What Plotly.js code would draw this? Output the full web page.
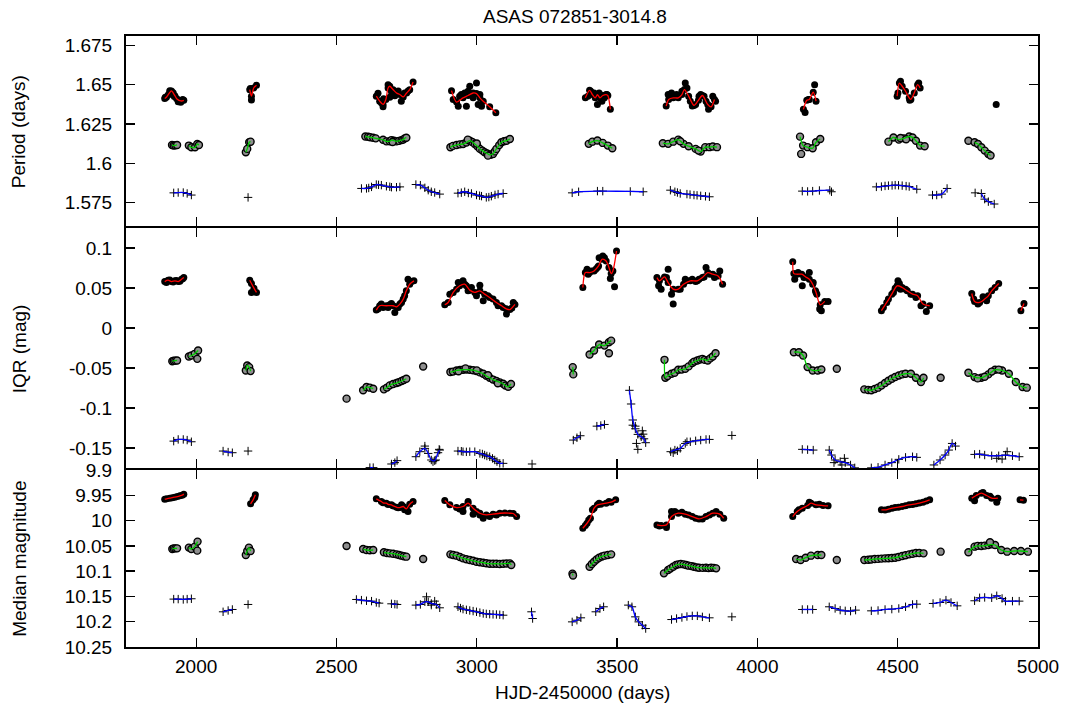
<!DOCTYPE html>
<html>
<head>
<meta charset="utf-8">
<script src="https://cdn.plot.ly/plotly-3.0.1.min.js"></script>
<style>
  html, body { margin: 0; padding: 0; background: #fff; }
  #chart { width: 1070px; height: 710px; }
</style>
</head>
<body>
<div id="chart"></div>
<script>
// ---- Axis ticks ----
const xTickVals = [2000, 2500, 3000, 3500, 4000, 4500, 5000];
const xTickText = ['2000', '2500', '3000', '3500', '4000', '4500', '5000'];
const periodTickVals = [1.575, 1.6, 1.625, 1.65, 1.675];
const periodTickText = ['1.575', '1.6', '1.625', '1.65', '1.675'];
const iqrTickVals = [-0.15, -0.1, -0.05, 0, 0.05, 0.1];
const iqrTickText = ['-0.15', '-0.1', '-0.05', '0', '0.05', '0.1'];
const magTickVals = [9.9, 9.95, 10, 10.05, 10.1, 10.15, 10.2, 10.25];
const magTickText = ['9.9', '9.95', '10', '10.05', '10.1', '10.15', '10.2', '10.25'];

// ---- Period (days): smoothed seasons (null = season gap) and extra scatter ----
const periodRedX = [1888,1894,1900,1906,1912,1918,1924,1930,1936,1942,1948,1956,null,
  2191,2197,2205,2215,null,
  2642,2654,2666,2676,2684,2690,2702,2714,2726,2738,2750,2761,2773,null,
  2910,2928,2951,2969,2987,2999,3011,3023,3046,3068,null,
  3387,3402,3412,3422,3430,3439,3449,3461,3467,3476,null,
  3675,3684,3700,3718,3731,3740,3755,3774,3790,3804,3823,3835,3847,null,
  4164,4176,4185,4199,4209,null,
  4498,4506,4516,4528,4541,4547,4559,4571,4580,null,
  4851];
const periodRedY = [1.6412,1.6420,1.6435,1.6450,1.6460,1.6448,1.6430,1.6412,1.6403,1.6398,1.6396,1.6400,null,
  1.6468,1.6427,1.6479,1.6496,null,
  1.6427,1.6395,1.6374,1.6406,1.6479,1.6490,1.6468,1.6447,1.6437,1.6422,1.6447,1.6468,1.6517,null,
  1.6462,1.6389,1.6416,1.6431,1.6447,1.6443,1.6416,1.6395,1.6359,1.6321,null,
  1.6416,1.6464,1.6437,1.6416,1.6437,1.6416,1.6431,1.6437,1.6431,1.6343,null,
  1.6364,1.6406,1.6416,1.6416,1.6437,1.6469,1.6427,1.6368,1.6401,1.6431,1.6374,1.6359,1.6406,null,
  1.6343,1.6401,1.6406,1.6452,1.6395,null,
  1.6427,1.6510,1.6490,1.6458,1.6416,1.6406,1.6447,1.6500,1.6479,null,
  1.6374];
const periodRedExtraX = [1890,1906,1922,1936,1945,1952,2197,2193,
  2648,2660,2666,2684,2696,2708,2720,2731,2743,2755,2668,2690,
  2916,2934,2945,2957,2963,2969,2975,2987,2999,3011,3017,3005,2939,2981,
  3406,3418,3430,3436,3446,3455,3464,3396,
  3682,3694,3712,3731,3743,3749,3761,3768,3780,3792,3798,3810,3817,3826,3831,3841,3851,
  4170,4204,4182,4510,4501,4543,4575];
const periodRedExtraY = [1.6420,1.6462,1.6425,1.6392,1.6388,1.6405,1.6402,1.6475,
  1.6445,1.6385,1.6360,1.6500,1.6455,1.6430,1.6460,1.6395,1.6447,1.6460,1.6410,1.6420,
  1.6405,1.6363,1.6437,1.6447,1.6363,1.6458,1.6490,1.6416,1.6510,1.6437,1.6363,1.6374,1.6427,1.6437,
  1.6458,1.6447,1.6374,1.6447,1.6395,1.6416,1.6437,1.6427,
  1.6437,1.6447,1.6437,1.6458,1.6510,1.6479,1.6395,1.6364,1.6374,1.6427,1.6437,1.6427,1.6395,1.6343,1.6364,1.6427,1.6395,
  1.6322,1.6500,1.6406,1.6521,1.6447,1.6401,1.6510];

const periodGreenX = [1914,1920,1926,1932,null,
  1974,1983,1996,2004,2010,null,
  2177,2182,2189,2194,null,
  2603,2613,2620,2631,2666,2678,2690,2696,2705,2714,2723,2732,2738,2743,2749,null,
  2906,2915,2928,2940,2951,2963,2975,2984,2993,3002,3011,3020,3028,3037,3046,3052,3058,3064,3070,3080,3088,3097,3106,3118,null,
  3399,3412,3430,3449,3467,3483,null,
  3663,3682,3700,3718,3737,3755,3780,3798,3814,3829,3841,3856,null,
  4152,4163,4179,4197,4209,4224,null,
  4467,4485,4504,4522,4541,4553,4565,4580,4596,null,
  4752,null,
  4774,4786,4798,4810,4823,4831];
const periodGreenY = [1.6116,1.6112,1.6114,1.6116,null,
  1.6112,1.6101,1.6101,1.6122,1.6116,null,
  1.6070,1.6091,1.6133,1.6137,null,
  1.6170,1.6168,1.6165,1.6162,1.6149,1.6139,1.6140,1.6147,1.6143,1.6139,1.6142,1.6147,1.6150,1.6158,1.6162,null,
  1.6101,1.6110,1.6116,1.6120,1.6122,1.6132,1.6143,1.6135,1.6122,1.6108,1.6091,1.6080,1.6070,1.6062,1.6053,1.6055,1.6059,1.6075,1.6091,1.6115,1.6133,1.6140,1.6143,1.6154,null,
  1.6123,1.6137,1.6144,1.6129,1.6112,1.6095,null,
  1.6127,1.6123,1.6137,1.6150,1.6123,1.6108,1.6091,1.6074,1.6102,1.6102,1.6106,1.6102,null,
  1.6169,1.6112,1.6102,1.6095,1.6133,1.6154,null,
  1.6137,1.6164,1.6150,1.6158,1.6170,1.6164,1.6143,1.6112,1.6108,null,
  1.6143,null,
  1.6133,1.6122,1.6101,1.6080,1.6059,1.6049];
const periodGreenExtraX = [2968,3000,3040,4156,2640,2700,3725,3790,4510,4530];
const periodGreenExtraY = [1.6150,1.6125,1.6048,1.6059,1.6158,1.6135,1.6140,1.6080,1.6160,1.6152];

const periodBlueX = [1920,1936,1954,1968,1983,null,
  2185,null,
  2589,2607,2625,2642,2660,2678,2696,2714,2726,null,
  2783,2799,2815,2827,2838,2850,2868,null,
  2933,2957,2981,2999,3017,3034,3052,3076,3094,null,
  3340,3363,3430,3449,3547,3593,null,
  3690,3706,3725,3749,3774,3798,3829,null,
  4160,4179,4197,4221,4258,null,
  4424,4442,4467,4491,4516,4541,4568,null,
  4624,4639,4657,4676,null,
  4776,null,
  4798,4810,4823,4844];
const periodBlueY = [1.5811,1.5813,1.5813,1.5807,1.5797,null,
  1.5782,null,
  1.5839,1.5839,1.5849,1.5864,1.5860,1.5853,1.5847,1.5847,1.5849,null,
  1.5864,1.5860,1.5843,1.5828,1.5818,1.5813,1.5803,null,
  1.5809,1.5818,1.5807,1.5797,1.5790,1.5782,1.5790,1.5803,1.5807,null,
  1.5811,1.5818,1.5822,1.5822,1.5820,1.5818,null,
  1.5828,1.5818,1.5807,1.5803,1.5797,1.5792,1.5786,null,
  1.5822,1.5820,1.5822,1.5826,1.5828,null,
  1.5849,1.5851,1.5857,1.5860,1.5857,1.5851,1.5834,null,
  1.5797,1.5797,1.5803,1.5839,null,
  1.5811,null,
  1.5807,1.5771,1.5755,1.5740];
const periodBlueExtraX = [4264,2945,2970,3010,3043,3065,2615,2650,2690,3715,3760,3785,3815,4455,4480,4503,4530];
const periodBlueExtraY = [1.5818,1.5812,1.5810,1.5793,1.5784,1.5798,1.5842,1.5862,1.5850,1.5813,1.5800,1.5795,1.5789,1.5855,1.5858,1.5859,1.5854];

// ---- IQR (mag) ----
const iqrRedX = [1888,1900,1912,1924,1936,1948,1956,null,
  2191,2197,2206,2215,null,
  2642,2654,2678,2702,2714,2726,2738,2749,2761,2776,null,
  2886,2898,2916,2939,2957,2975,2993,3011,3028,3046,3070,3088,3105,3118,3136,null,
  3378,3387,3402,3418,3434,3446,3461,3471,3479,3485,3498,null,
  3642,3651,3669,3682,3700,3718,3737,3761,3786,3804,3823,3841,3860,3876,null,
  4126,4130,4142,4158,4172,4185,4197,4209,4224,4240,null,
  4442,4461,4479,4498,4516,4534,4553,4571,4590,4614,null,
  4764,4774,4792,4810,4823,4835,4860,null,
  4939,4950];
const iqrRedY = [0.0580,0.0597,0.0580,0.0589,0.0580,0.0609,0.0630,null,
  0.0597,0.0556,0.0498,0.0444,null,
  0.0224,0.0278,0.0278,0.0278,0.0265,0.0299,0.0361,0.0464,0.0547,0.0589,null,
  0.0290,0.0319,0.0444,0.0527,0.0547,0.0473,0.0444,0.0464,0.0423,0.0381,0.0319,0.0278,0.0240,0.0230,0.0295,null,
  0.0506,0.0692,0.0692,0.0713,0.0775,0.0858,0.0837,0.0755,0.0680,0.0713,0.0962,null,
  0.0630,0.0589,0.0638,0.0568,0.0485,0.0485,0.0547,0.0589,0.0589,0.0630,0.0692,0.0672,0.0651,0.0547,null,
  0.0829,0.0680,0.0672,0.0672,0.0638,0.0609,0.0547,0.0444,0.0290,0.0332,null,
  0.0216,0.0319,0.0423,0.0527,0.0506,0.0464,0.0423,0.0402,0.0299,0.0278,null,
  0.0431,0.0332,0.0319,0.0361,0.0402,0.0464,0.0556,null,
  0.0216,0.0307];
const iqrRedExtraX = [1894,1906,1918,1930,1942,1952,2197,
  2648,2666,2690,2708,2720,2732,2743,2755,2660,2684,2696,2767,
  2904,2934,2951,2969,2981,2999,3011,3023,3040,3058,3076,3094,3106,2928,2963,3125,3130,
  3393,3409,3424,3436,3449,3455,3476,3491,3397,3430,
  3648,3657,3676,3682,3694,3700,3725,3743,3768,3792,3817,3831,3847,3866,3749,3780,3810,
  4133,4145,4160,4166,4185,4199,4207,4212,4222,4228,4252,
  4449,4467,4485,4501,4510,4528,4547,4565,4583,4602,4491,4506,
  4771,4786,4804,4817,4847];
const iqrRedExtraY = [0.0570,0.0600,0.0575,0.0592,0.0585,0.0615,0.0444,
  0.0236,0.0257,0.0290,0.0195,0.0257,0.0319,0.0402,0.0609,0.0299,0.0257,0.0307,0.0580,
  0.0423,0.0568,0.0589,0.0464,0.0506,0.0402,0.0535,0.0340,0.0402,0.0361,0.0278,0.0257,0.0174,0.0485,0.0527,0.0250,0.0320,
  0.0734,0.0713,0.0734,0.0879,0.0900,0.0879,0.0618,0.0514,0.0672,0.0755,
  0.0527,0.0485,0.0630,0.0734,0.0423,0.0299,0.0485,0.0609,0.0609,0.0609,0.0755,0.0672,0.0630,0.0713,0.0589,0.0580,0.0638,
  0.0609,0.0692,0.0527,0.0630,0.0692,0.0568,0.0464,0.0423,0.0236,0.0216,0.0332,
  0.0257,0.0361,0.0444,0.0589,0.0485,0.0485,0.0423,0.0381,0.0278,0.0207,0.0498,0.0556,
  0.0361,0.0299,0.0390,0.0340,0.0506];

const iqrGreenX = [1915,1920,1926,1932,null,
  1974,1983,1995,2007,null,
  2177,2182,2189,2194,null,
  2536,null,
  2595,2607,2619,2631,null,
  2669,2680,2690,2702,2714,2722,2732,2740,2749,null,
  2809,null,
  2906,2915,2928,2940,2951,2963,2975,2987,2999,3011,3023,3034,3046,3058,3070,3082,3094,3102,3112,3122,null,
  3342,3344,null,
  3402,3418,3436,3455,3471,3479,null,
  3669,3672,3680,3694,3705,3718,3730,3743,3755,3768,3775,3786,3795,3804,3812,3823,3832,3841,3851,null,
  4130,4148,4163,4179,4197,4215,4228,null,
  4283,null,
  4381,4395,4406,4418,4430,4442,4455,4467,4479,4491,4504,4516,4528,4547,4565,4583,4592,null,
  4653,null,
  4752,4774,4798,4823,4847,4872,4896,4921,4945,4960];
const iqrGreenY = [-0.0415,-0.0410,-0.0408,-0.0406,null,
  -0.0357,-0.0344,-0.0323,-0.0282,null,
  -0.0531,-0.0468,-0.0489,-0.0539,null,
  -0.0883,null,
  -0.0779,-0.0738,-0.0746,-0.0759,null,
  -0.0767,-0.0745,-0.0717,-0.0700,-0.0688,-0.0678,-0.0663,-0.0650,-0.0634,null,
  -0.0481,null,
  -0.0551,-0.0545,-0.0531,-0.0525,-0.0522,-0.0520,-0.0522,-0.0528,-0.0539,-0.0555,-0.0572,-0.0598,-0.0622,-0.0645,-0.0663,-0.0680,-0.0697,-0.0720,-0.0735,-0.0700,null,
  -0.0489,-0.0580,null,
  -0.0332,-0.0282,-0.0207,-0.0220,-0.0178,-0.0158,null,
  -0.0398,-0.0622,-0.0600,-0.0572,-0.0560,-0.0522,-0.0520,-0.0510,-0.0480,-0.0439,-0.0420,-0.0406,-0.0395,-0.0386,-0.0398,-0.0406,-0.0380,-0.0357,-0.0315,null,
  -0.0303,-0.0303,-0.0344,-0.0489,-0.0531,-0.0531,-0.0518,null,
  -0.0510,null,
  -0.0767,-0.0775,-0.0779,-0.0762,-0.0746,-0.0720,-0.0688,-0.0660,-0.0634,-0.0612,-0.0593,-0.0580,-0.0572,-0.0572,-0.0622,-0.0676,-0.0622,null,
  -0.0622,null,
  -0.0560,-0.0614,-0.0622,-0.0580,-0.0522,-0.0531,-0.0572,-0.0676,-0.0738,-0.0746];
const iqrGreenExtraX = [2004,3471,2960,3040,3075,4785,4810,4860,4835,2935,3000];
const iqrGreenExtraY = [-0.0386,-0.0315,-0.0505,-0.0590,-0.0690,-0.0630,-0.0610,-0.0520,-0.0545,-0.0540,-0.0530];

const iqrBlueX = [1920,1936,1954,1968,1983,null,
  2096,2114,2129,null,
  2185,null,
  2619,2631,null,
  2696,2708,2716,null,
  2783,2797,2815,2827,2838,2850,2862,2868,null,
  2933,2945,2951,2963,2975,2993,3011,3020,3028,3036,3046,3056,3064,3072,3082,3094,null,
  3197,null,
  3344,3357,3369,null,
  3428,3442,3455,null,
  3544,3550,3556,3565,3574,3586,3596,3602,null,
  3691,3706,3725,3743,3761,3780,3798,3817,3829,null,
  3909,null,
  4160,4179,4199,null,
  4256,4264,4277,4295,4313,4332,4347,null,
  4406,4430,4455,4479,4504,4528,4553,4568,null,
  4629,4651,4669,4682,4694,4706,null,
  4774,4792,4810,4835,4860,4884,4909,4933];
const iqrBlueY = [-0.1414,-0.1393,-0.1393,-0.1401,-0.1422,null,
  -0.1538,-0.1551,-0.1559,null,
  -0.1538,null,
  -0.1745,-0.1745,null,
  -0.1700,-0.1683,-0.1658,null,
  -0.1609,-0.1546,-0.1505,-0.1568,-0.1650,-0.1658,-0.1559,-0.1526,null,
  -0.1538,-0.1540,-0.1546,-0.1548,-0.1546,-0.1546,-0.1568,-0.1575,-0.1588,-0.1600,-0.1609,-0.1630,-0.1650,-0.1670,-0.1692,-0.1692,null,
  -0.1700,null,
  -0.1401,-0.1372,-0.1347,null,
  -0.1227,-0.1219,-0.1206,null,
  -0.0779,-0.0950,-0.1150,-0.1260,-0.1330,-0.1360,-0.1385,-0.1434,null,
  -0.1546,-0.1526,-0.1505,-0.1443,-0.1422,-0.1410,-0.1401,-0.1393,-0.1393,null,
  -0.1343,null,
  -0.1517,-0.1521,-0.1526,null,
  -0.1526,-0.1588,-0.1650,-0.1671,-0.1683,-0.1712,-0.1748,null,
  -0.1748,-0.1741,-0.1712,-0.1683,-0.1642,-0.1617,-0.1609,-0.1617,null,
  -0.1712,-0.1650,-0.1588,-0.1526,-0.1443,-0.1476,null,
  -0.1580,-0.1576,-0.1588,-0.1597,-0.1597,-0.1588,-0.1597,-0.1609];
const iqrBlueExtraX = [2815,2844,2854,2866,3556,3565,3569,3574,3590,3593,3749,3700,3715,4310,4301,4273,4853,4872,4890];
const iqrBlueExtraY = [-0.1476,-0.1671,-0.1650,-0.1517,-0.1215,-0.1227,-0.1443,-0.1517,-0.1285,-0.1327,-0.1422,-0.1560,-0.1535,-0.1629,-0.1712,-0.1683,-0.1629,-0.1638,-0.1546];

// ---- Median magnitude ----
const magRedX = [1888,1895,1906,1915,1924,1933,1942,1950,1956,null,
  2194,2203,2211,null,
  2642,2660,2666,2678,2684,2696,2702,2714,2720,2726,2738,2749,2761,2773,null,
  2886,2904,2928,2951,2969,2987,3011,3034,3058,3082,3100,3118,3130,3142,null,
  3378,3393,3405,3418,3430,3442,3461,3479,3495,null,
  3642,3657,3676,3694,3718,3743,3768,3792,3817,3841,3866,3880,null,
  4126,4142,4160,4179,4191,4209,4234,4252,null,
  4442,4455,4467,4480,4491,4503,4516,4528,4541,4553,4565,4577,4590,4602,4614,null,
  4764,4780,4798,4817,4835,4857,null,
  4936,4948];
const magRedY = [9.9577,9.9570,9.9557,9.9548,9.9537,9.9525,9.9511,9.9498,9.9478,null,
  9.9669,9.9590,9.9491,null,
  9.9570,9.9623,9.9650,9.9656,9.9680,9.9689,9.9710,9.9736,9.9745,9.9742,9.9722,9.9769,9.9676,9.9623,null,
  9.9603,9.9689,9.9742,9.9722,9.9656,9.9755,9.9855,9.9888,9.9874,9.9855,9.9850,9.9855,9.9860,9.9921,null,
  10.0152,10.0053,9.9954,9.9755,9.9689,9.9676,9.9656,9.9636,9.9590,null,
  10.0086,10.0099,10.0086,9.9921,9.9855,9.9874,9.9921,9.9967,9.9921,9.9855,9.9874,9.9954,null,
  9.9921,9.9822,9.9755,9.9703,9.9656,9.9689,9.9703,9.9709,null,
  9.9788,9.9790,9.9775,9.9755,9.9742,9.9735,9.9722,9.9705,9.9689,9.9680,9.9669,9.9655,9.9636,9.9615,9.9590,null,
  9.9557,9.9504,9.9458,9.9504,9.9557,9.9557,null,
  9.9590,9.9597];
const magRedExtraX = [2209,2732,2743,2755,2951,2969,2987,3011,3023,3046,2939,2999,3070,
  3387,3399,3412,3436,3471,3694,3676,3706,3731,3755,3780,3804,3829,3853,3651,
  4148,4185,4221,4774,4853,4804,4829];
const magRedExtraY = [9.9545,9.9689,9.9788,9.9822,9.9822,9.9623,9.9874,9.9888,9.9954,9.9921,9.9769,9.9822,9.9888,
  10.0099,9.9987,9.9788,9.9656,9.9623,9.9822,10.0139,9.9822,9.9835,9.9888,9.9954,9.9967,9.9888,9.9822,10.0106,
  9.9788,9.9636,9.9676,9.9610,9.9636,9.9445,9.9517];

const magGreenX = [1915,1920,1926,1932,null,
  1974,1983,1995,2005,null,
  2177,2182,2188,2194,null,
  2536,null,
  2595,2607,2619,2631,null,
  2669,2680,2690,2702,2714,2723,2732,2740,2749,null,
  2809,null,
  2906,2916,2928,2940,2951,2963,2975,2987,2999,3011,3023,3034,3046,3058,3070,3082,3094,3106,3118,3123,null,
  3341,3343,null,
  3402,3410,3418,3427,3436,3446,3455,3467,3479,null,
  3667,3682,3690,3700,3710,3718,3727,3737,3746,3755,3765,3774,3783,3792,3805,3817,3826,3835,3845,3853,null,
  4138,4154,4172,4191,4215,4228,null,
  4283,null,
  4381,4395,4405,4418,4430,4442,4455,4467,4479,4491,4503,4516,4528,4541,4553,4565,4577,4592,null,
  4653,null,
  4752,4774,4785,4798,4810,4823,4835,4847,4869,4890,4915,4939,4964];
const magGreenY = [10.0562,10.0550,10.0549,10.0549,null,
  10.0535,10.0562,10.0516,10.0416,null,
  10.0681,10.0602,10.0535,10.0602,null,
  10.0502,null,
  10.0562,10.0582,10.0588,10.0582,null,
  10.0628,10.0640,10.0648,10.0655,10.0668,10.0680,10.0694,10.0705,10.0714,null,
  10.0760,null,
  10.0668,10.0680,10.0694,10.0720,10.0747,10.0765,10.0780,10.0795,10.0813,10.0825,10.0833,10.0845,10.0853,10.0855,10.0853,10.0858,10.0853,10.0850,10.0846,10.0879,null,
  10.1050,10.1085,null,
  10.0912,10.0860,10.0813,10.0770,10.0734,10.0710,10.0694,10.0680,10.0668,null,
  10.1044,10.0978,10.0950,10.0912,10.0880,10.0866,10.0860,10.0866,10.0880,10.0892,10.0900,10.0912,10.0925,10.0932,10.0935,10.0932,10.0940,10.0932,10.0935,10.0945,null,
  10.0760,10.0780,10.0734,10.0694,10.0681,10.0681,null,
  10.0780,null,
  10.0780,10.0775,10.0770,10.0760,10.0758,10.0752,10.0747,10.0745,10.0740,10.0734,10.0720,10.0701,10.0685,10.0668,10.0655,10.0641,10.0640,10.0648,null,
  10.0615,null,
  10.0628,10.0516,10.0500,10.0502,10.0495,10.0483,10.0470,10.0483,10.0582,10.0615,10.0602,10.0602,10.0615];
const magGreenExtraX = [2004,4829];
const magGreenExtraY = [10.0595,10.0430];

const magBlueX = [1920,1936,1954,1968,1983,null,
  2096,2114,2129,null,
  2185,null,
  2571,2589,2607,2625,2642,2652,null,
  2696,2708,2716,null,
  2783,2799,2815,2827,2838,2856,2868,null,
  2933,2942,2951,2963,2975,2987,2999,3011,3023,3034,3046,3058,3070,3082,3094,null,
  3195,3199,null,
  3340,3357,3371,null,
  3424,3439,3452,null,
  3540,3553,3565,3577,3590,3602,null,
  3694,3712,3731,3749,3768,3786,3804,3829,null,
  3909,null,
  4160,4179,4197,null,
  4256,4277,4295,4313,4332,4350,null,
  4406,4430,4455,4479,4504,4528,4553,4568,null,
  4626,4651,4672,4690,4712,null,
  4774,4792,4810,4835,4853,4872,4884,4909,4933];
const magBlueY = [10.1553,10.1553,10.1560,10.1553,10.1546,null,
  10.1804,10.1778,10.1758,null,
  10.1659,null,
  10.1560,10.1573,10.1586,10.1593,10.1620,10.1633,null,
  10.1646,10.1653,10.1659,null,
  10.1672,10.1659,10.1606,10.1606,10.1639,10.1659,10.1725,null,
  10.1705,10.1730,10.1751,10.1765,10.1778,10.1790,10.1804,10.1820,10.1837,10.1845,10.1851,10.1855,10.1857,10.1862,10.1871,null,
  10.1804,10.1937,null,
  10.2003,10.1970,10.1923,null,
  10.1804,10.1738,10.1705,null,
  10.1672,10.1705,10.1904,10.2003,10.2069,10.2135,null,
  10.1957,10.1937,10.1917,10.1897,10.1884,10.1884,10.1904,10.1923,null,
  10.1904,null,
  10.1758,10.1758,10.1758,null,
  10.1705,10.1738,10.1771,10.1785,10.1791,10.1771,null,
  10.1785,10.1778,10.1758,10.1751,10.1738,10.1705,10.1659,10.1653,null,
  10.1639,10.1620,10.1573,10.1620,10.1686,null,
  10.1586,10.1527,10.1520,10.1527,10.1487,10.1540,10.1593,10.1593,10.1593];
const magBlueExtraX = [2821,2838,2850];
const magBlueExtraY = [10.1507,10.1672,10.1593];

// ---- Styles ----
const FONT = 'Liberation Sans, Arial, Helvetica, sans-serif';
const styles = {
  red:   { line: '#ff0000', marker: { symbol: 'circle', size: 7, color: '#000000' } },
  green: { line: '#00cc00', marker: { symbol: 'circle', size: 7, color: '#8e8e8e', line: { color: '#000000', width: 1.4 } } },
  blue:  { line: '#0000ff', marker: { symbol: 'cross-thin-open', size: 6, color: '#000000', line: { color: '#000000', width: 1 } } }
};

function points(xs, ys, exX, exY) {
  const px = [], py = [];
  xs.forEach((v, i) => { if (v !== null) { px.push(v); py.push(ys[i]); } });
  return { x: px.concat(exX), y: py.concat(exY) };
}

function series(xs, ys, exX, exY, style, xa, ya) {
  const p = points(xs, ys, exX, exY);
  return [
    { type: 'scatter', mode: 'markers', x: p.x, y: p.y, xaxis: xa, yaxis: ya,
      marker: style.marker, hoverinfo: 'skip' },
    { type: 'scatter', mode: 'lines', x: xs, y: ys, xaxis: xa, yaxis: ya,
      connectgaps: false, line: { color: style.line, width: 1.3, shape: 'spline', smoothing: 0.8 },
      hoverinfo: 'skip' }
  ];
}

const data = [].concat(
  series(periodRedX, periodRedY, periodRedExtraX, periodRedExtraY, styles.red, 'x3', 'y3'),
  series(periodGreenX, periodGreenY, periodGreenExtraX, periodGreenExtraY, styles.green, 'x3', 'y3'),
  series(periodBlueX, periodBlueY, periodBlueExtraX, periodBlueExtraY, styles.blue, 'x3', 'y3'),
  series(iqrRedX, iqrRedY, iqrRedExtraX, iqrRedExtraY, styles.red, 'x2', 'y2'),
  series(iqrGreenX, iqrGreenY, iqrGreenExtraX, iqrGreenExtraY, styles.green, 'x2', 'y2'),
  series(iqrBlueX, iqrBlueY, iqrBlueExtraX, iqrBlueExtraY, styles.blue, 'x2', 'y2'),
  series(magRedX, magRedY, magRedExtraX, magRedExtraY, styles.red, 'x', 'y'),
  series(magGreenX, magGreenY, magGreenExtraX, magGreenExtraY, styles.green, 'x', 'y'),
  series(magBlueX, magBlueY, magBlueExtraX, magBlueExtraY, styles.blue, 'x', 'y')
);

const frame = {
  showline: true, linecolor: '#000', linewidth: 2, mirror: 'ticks',
  ticks: 'inside', ticklen: 9, tickwidth: 1.3, tickcolor: '#000',
  showgrid: false, zeroline: false
};

function xAxis(anchor, labels) {
  return Object.assign({}, frame, {
    anchor: anchor, domain: [0, 1], range: [1750, 5000],
    tickmode: 'array', tickvals: xTickVals, ticktext: xTickText,
    showticklabels: labels, ticklabelstandoff: 1
  });
}

function yAxis(anchor, domain, range, vals, text) {
  return Object.assign({}, frame, {
    anchor: anchor, domain: domain, range: range, ticklabelstandoff: 8,
    tickmode: 'array', tickvals: vals, ticktext: text
  });
}

// Panels share their border lines: each upper domain starts one line width higher
const PLOT_H = 611;
const LW = 2 / PLOT_H;

const layout = {
  width: 1070, height: 710,
  margin: { l: 126, r: 32, t: 36, b: 63 },
  paper_bgcolor: '#fff', plot_bgcolor: '#fff',
  showlegend: false,
  font: { family: FONT, size: 19, color: '#000' },
  xaxis: xAxis('y', true),
  xaxis2: xAxis('y2', false),
  xaxis3: xAxis('y3', false),
  yaxis: yAxis('x', [0, 0.2897], [10.25, 9.9], magTickVals, magTickText),
  yaxis2: yAxis('x2', [0.2897 + LW, 0.6858], [-0.175, 0.125], iqrTickVals, iqrTickText),
  yaxis3: yAxis('x3', [0.6858 + LW, 1], [1.56, 1.681], periodTickVals, periodTickText),
  annotations: [
    { text: 'ASAS 072851-3014.8', xref: 'paper', yref: 'paper', x: 0.4923, y: 1.0327,
      xanchor: 'center', yanchor: 'middle', showarrow: false, font: { size: 19 } },
    { text: 'HJD-2450000 (days)', xref: 'paper', yref: 'paper', x: 0.5, y: -0.0745,
      xanchor: 'center', yanchor: 'middle', showarrow: false, font: { size: 19 } },
    { text: 'Period (days)', xref: 'paper', yref: 'paper', x: -0.117, y: 0.8429, textangle: -90,
      xanchor: 'center', yanchor: 'middle', showarrow: false, font: { size: 19 } },
    { text: 'IQR (mag)', xref: 'paper', yref: 'paper', x: -0.117, y: 0.4877, textangle: -90,
      xanchor: 'center', yanchor: 'middle', showarrow: false, font: { size: 19 } },
    { text: 'Median magnitude', xref: 'paper', yref: 'paper', x: -0.117, y: 0.1448, textangle: -90,
      xanchor: 'center', yanchor: 'middle', showarrow: false, font: { size: 19 } }
  ]
};

Plotly.newPlot('chart', data, layout, { staticPlot: true, displayModeBar: false });
</script>
</body>
</html>
